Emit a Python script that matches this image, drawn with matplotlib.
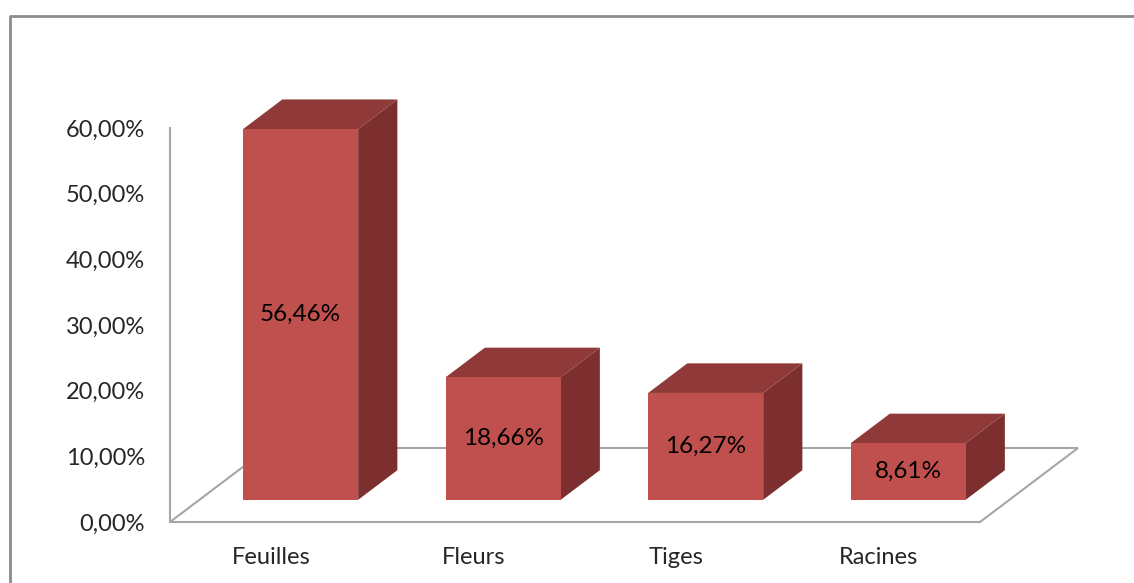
import matplotlib
matplotlib.use("Agg")
import matplotlib.pyplot as plt
from matplotlib.patches import Polygon, Rectangle
from matplotlib.lines import Line2D

plt.rcParams['font.family'] = ['Lato', 'DejaVu Sans']

categories = ["Feuilles", "Fleurs", "Tiges", "Racines"]
values = [56.46, 18.66, 16.27, 8.61]
yticks = [0, 10, 20, 30, 40, 50, 60]


def fr_pct(v):
    return f"{v:.2f}".replace(".", ",") + "%"


FRONT = "#c0504d"
TOP = "#8f3a38"
SIDE = "#7c2f2e"
EDGE = "#a6a6a6"

W, H = 1134, 583
fig = plt.figure(figsize=(W / 100, H / 100), dpi=100)
fig.patch.set_facecolor("white")

# axes = front plane of the floor (category units x percent)
ax = fig.add_axes([170 / W, (H - 522) / H, 810 / W, 394 / H])
ax.set_xlim(0, len(categories))
ax.set_ylim(0, 60)
for s in ax.spines.values():
    s.set_visible(False)
ax.patch.set_alpha(0)

# oblique depth offset of the whole floor, in data units
DX, DY = 0.484, 11.27
d0, dd = 0.30, 0.40      # bar start depth / bar depth (fractions of floor)
bw = 0.568               # bar width in category units

n = len(categories)
floor = Polygon([(0, 0), (n, 0), (n + DX, DY), (DX, DY)], closed=True,
                facecolor="white", edgecolor=EDGE, lw=1.5, zorder=1, clip_on=False)
ax.add_patch(floor)
ax.plot([0, 0], [0, 60], color=EDGE, lw=1.5, zorder=2, clip_on=False)

for i, v in enumerate(values):
    x0 = i + 0.5 - bw / 2 + d0 * DX
    y0 = d0 * DY
    ox, oy = dd * DX, dd * DY
    side = Polygon([(x0 + bw, y0), (x0 + bw + ox, y0 + oy),
                    (x0 + bw + ox, y0 + v + oy), (x0 + bw, y0 + v)],
                   closed=True, facecolor=SIDE, edgecolor="none", zorder=3, clip_on=False)
    top = Polygon([(x0, y0 + v), (x0 + bw, y0 + v),
                   (x0 + bw + ox, y0 + v + oy), (x0 + ox, y0 + v + oy)],
                  closed=True, facecolor=TOP, edgecolor="none", zorder=3, clip_on=False)
    front = Rectangle((x0, y0), bw, v, facecolor=FRONT, edgecolor="none",
                      zorder=4, clip_on=False)
    ax.add_patch(side)
    ax.add_patch(top)
    ax.add_patch(front)
    ax.text(x0 + bw / 2, y0 + v / 2, fr_pct(v), ha="center", va="center",
            fontsize=17.5, color="black", zorder=5)

ax.set_yticks(yticks)
ax.set_yticklabels([fr_pct(t) for t in yticks], fontsize=17, color="#262626")
ax.set_xticks([i + 0.5 for i in range(n)])
ax.set_xticklabels(categories, fontsize=17, color="#262626")
ax.tick_params(axis="y", length=0, pad=18)
ax.tick_params(axis="x", length=0, pad=18)

# chart area border (left and top visible)
fig.add_artist(Line2D([10 / W, 10 / W, 1.0], [0.0, 1 - 16 / H, 1 - 16 / H],
                      transform=fig.transFigure, color="#8c8c8c", lw=2))

fig.savefig("out.png", dpi=100)
